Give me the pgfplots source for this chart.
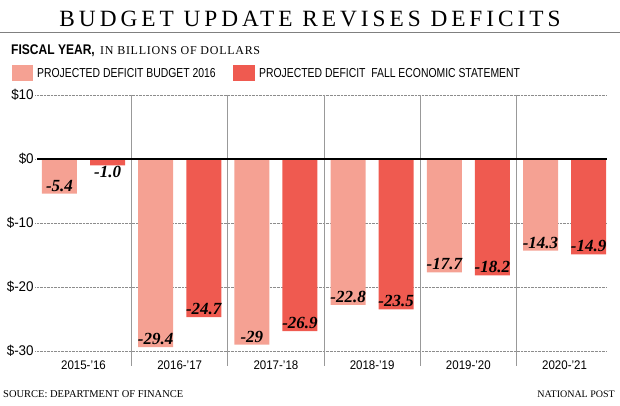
\documentclass[border=0pt]{standalone}
\usepackage{fontspec}
\setmainfont{Liberation Serif}
\usepackage{pgfplots}
\usepackage{pgfplotstable}
\pgfplotsset{compat=1.18}
\newfontfamily\titlefont[LetterSpace=17]{Liberation Serif}
\newfontfamily\capsfont[LetterSpace=6]{Liberation Serif}
\newfontfamily\condfont[FakeStretch=0.8]{Liberation Sans}
\newfontfamily\boldcond[FakeStretch=0.86]{Liberation Sans}
\newfontfamily\tickfont[FakeStretch=0.92]{Liberation Sans}
\newfontfamily\ytickfont[FakeStretch=0.96]{Liberation Sans}
\newfontfamily\valfont{Liberation Serif}
\definecolor{lightbar}{RGB}{245,161,147}
\definecolor{darkbar}{RGB}{239,90,80}
\tikzset{valstyle/.style={font=\valfont\bfseries\itshape\fontsize{17bp}{19bp}\selectfont, text=black, inner sep=0pt}}

\pgfplotstableread{
x y lab
0 -5.4 -5.4
1 -29.4 -29.4
2 -29 -29
3 -22.8 -22.8
4 -17.7 -17.7
5 -14.3 -14.3
}\budget

\pgfplotstableread{
x y lab
0 -1.0 {}
1 -24.7 -24.7
2 -26.9 -26.9
3 -23.5 -23.5
4 -18.2 -18.2
5 -14.9 -14.9
}\fall

\pgfplotstableread{
x y lab
0 -1.0 -1.0
}\fallsmall

\begin{document}
\begin{tikzpicture}
\useasboundingbox (0,0) rectangle (620bp,406bp);
\node[anchor=base, inner sep=0] at (310bp,379.3bp) {\titlefont\fontsize{23.3bp}{26bp}\selectfont BUDGET UPDATE REVISES DEFICITS};
\draw[black!50, line width=1.5bp] (0,373.3bp) -- (620bp,373.3bp);

\begin{axis}[
  at={(35.4bp,55bp)}, anchor=south west,
  scale only axis, width=571.5bp, height=256bp,
  xmin=-0.5, xmax=5.44, ymin=-30, ymax=10,
  axis line style={draw=none}, major tick length=0pt,
  xtick={0,1,2,3,4,5},
  xticklabels={2015-’16,2016-’17,2017-’18,2018-’19,2019-’20,2020-’21},
  ytick={-30,-20,-10,0,10},
  yticklabels={\$-30,\$-20,\$-10,\$0,\$10},
  xticklabel style={font=\tickfont\fontsize{12.5bp}{14bp}\selectfont, anchor=base, yshift=-19bp},
  yticklabel style={font=\ytickfont\fontsize{14bp}{16bp}\selectfont, anchor=east, inner sep=1.5bp},
  ymajorgrids, grid style={densely dotted, black!45, line width=0.6bp},
  clip=false,
]
\addplot[ybar, bar width=0.364, bar shift=-0.25, fill=lightbar, draw=none,
  nodes near coords, point meta=explicit symbolic,
  nodes near coords style={valstyle, anchor=base, yshift=2.5bp, xshift=-24.05bp}]
  table[x=x, y=y, meta=lab] {\budget};
\addplot[ybar, bar width=0.364, bar shift=0.25, fill=darkbar, draw=none,
  nodes near coords, point meta=explicit symbolic,
  nodes near coords style={valstyle, anchor=base, yshift=2.5bp, xshift=24.05bp}]
  table[x=x, y=y, meta=lab] {\fall};
\addplot[ybar, bar width=0.364, bar shift=0.25, fill=darkbar, draw=none,
  nodes near coords, point meta=explicit symbolic,
  nodes near coords style={valstyle, anchor=north, yshift=-1bp, xshift=24.05bp}]
  table[x=x, y=y, meta=lab] {\fallsmall};
\draw[black!40, line width=1bp] (axis cs:0.5,10) -- ([yshift=-15bp]axis cs:0.5,-30);
\draw[black!40, line width=1bp] (axis cs:1.5,10) -- ([yshift=-15bp]axis cs:1.5,-30);
\draw[black!40, line width=1bp] (axis cs:2.5,10) -- ([yshift=-15bp]axis cs:2.5,-30);
\draw[black!40, line width=1bp] (axis cs:3.5,10) -- ([yshift=-15bp]axis cs:3.5,-30);
\draw[black!40, line width=1bp] (axis cs:4.5,10) -- ([yshift=-15bp]axis cs:4.5,-30);
\draw[black, line width=1.8bp] (axis cs:-0.48,0) -- (axis cs:5.44,0);
\end{axis}

\node[anchor=base west, inner sep=0] at (11bp,351bp) {\boldcond\bfseries\fontsize{14bp}{16bp}\selectfont FISCAL YEAR,};
\node[anchor=base west, inner sep=0] at (100bp,351bp) {\capsfont\fontsize{12bp}{14bp}\selectfont IN BILLIONS OF DOLLARS};
\fill[lightbar] (12bp,325bp) rectangle (33bp,341bp);
\node[anchor=base west, inner sep=0] at (37bp,328bp) {\condfont\fontsize{13bp}{15bp}\selectfont PROJECTED DEFICIT BUDGET 2016};
\fill[darkbar] (233bp,325bp) rectangle (255bp,341bp);
\node[anchor=base west, inner sep=0] at (259bp,328bp) {\condfont\fontsize{13bp}{15bp}\selectfont PROJECTED DEFICIT\ \ FALL ECONOMIC STATEMENT};

\node[anchor=base west, inner sep=0] at (3bp,9bp) {\fontsize{10.5bp}{12bp}\selectfont SOURCE: DEPARTMENT OF FINANCE};
\node[anchor=base east, inner sep=0] at (615bp,9bp) {\fontsize{10bp}{12bp}\selectfont NATIONAL POST};
\end{tikzpicture}
\end{document}
